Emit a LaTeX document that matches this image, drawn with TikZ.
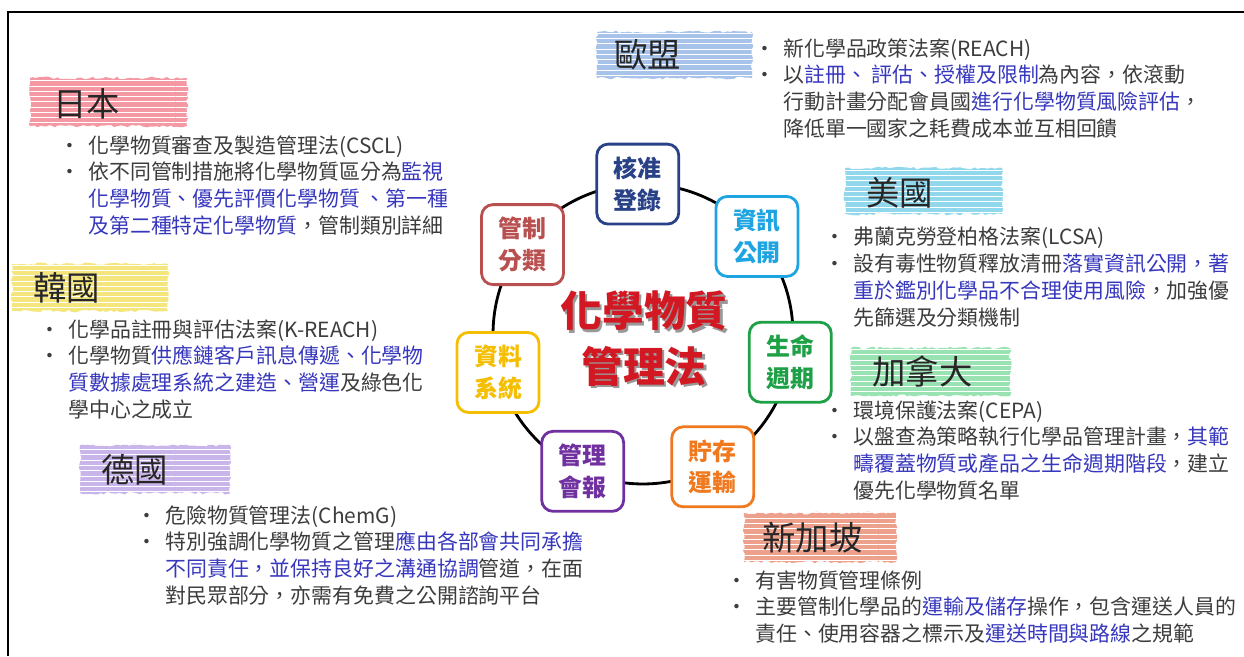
\documentclass[tikz,border=0pt]{standalone}
\usepackage{fontspec}
\setmainfont{Noto Sans CJK TC}
\usetikzlibrary{decorations.pathmorphing,patterns}

\definecolor{hlblue}{RGB}{55,55,190}
\definecolor{txtgray}{RGB}{60,60,60}
\definecolor{regblue}{RGB}{40,65,135}
\definecolor{infoblue}{RGB}{30,165,225}
\definecolor{lifegreen}{RGB}{30,160,70}
\definecolor{storeorange}{RGB}{240,120,30}
\definecolor{reportpurple}{RGB}{112,48,160}
\definecolor{datayellow}{RGB}{245,190,0}
\definecolor{classred}{RGB}{185,80,80}
\definecolor{titlered}{RGB}{210,25,35}
\definecolor{jpbrush}{RGB}{240,110,125}
\definecolor{eubrush}{RGB}{130,170,225}
\definecolor{usbrush}{RGB}{100,200,230}
\definecolor{cabrush}{RGB}{110,215,145}
\definecolor{sgbrush}{RGB}{230,120,90}
\definecolor{krbrush}{RGB}{240,220,70}
\definecolor{debrush}{RGB}{180,150,225}

\newlength{\bulw}\setlength{\bulw}{0.46cm}
\newcommand{\bul}{\makebox[\bulw][l]{\hspace{-0.12cm}•}}
\newcommand{\hang}{\hspace*{\bulw}}
\newcommand{\hl}[1]{\textcolor{hlblue}{#1}}
\newcommand{\shadowed}[1]{\rlap{\hspace{0.05cm}\raisebox{-0.05cm}{\textcolor{black!40}{#1}}}#1}

\tikzset{
  lawlist/.style={anchor=north west, inner sep=0pt, align=left, text=txtgray,
    font=\fontsize{11.9}{15.3}\selectfont},
  country/.style={anchor=west, inner sep=0pt, text=black!85,
    font=\fontsize{19}{19}\selectfont},
  brushstroke/.style={fill=#1, fill opacity=0.7, decorate,
    decoration={random steps, segment length=2pt, amplitude=0.8pt},
    postaction={pattern=horizontal lines, pattern color=white, fill opacity=0.15}},
  topic/.style={draw=#1, text=#1, fill=white, line width=1.6pt, rounded corners=6.5pt,
    minimum width=1.64cm, minimum height=1.6cm, align=center, inner sep=0pt,
    font=\bfseries\fontsize{13.6}{18}\selectfont},
  title/.style={align=center, inner sep=0pt, text=titlered,
    font=\bfseries\fontsize{23.8}{31.7}\selectfont},
}

\begin{document}
\begin{tikzpicture}[x=0.02cm, y=-0.02cm]
\pgfmathsetseed{11}
\useasboundingbox (0,0) rectangle (1244,656);
\draw[line width=1.1pt] (8,656) -- (8,12) -- (1244,12);

% brush strokes behind the country names
\fill[brushstroke=jpbrush] (30,78) rectangle (187,126);
\fill[brushstroke=krbrush] (12,264) rectangle (168,311);
\fill[brushstroke=debrush] (80,445) rectangle (230,493);
\fill[brushstroke=eubrush] (597,32) rectangle (752,78);
\fill[brushstroke=usbrush] (845,168) rectangle (1002,214);
\fill[brushstroke=cabrush] (851,348) rectangle (1010,396);
\fill[brushstroke=sgbrush] (744,513) rectangle (896,562);

\node[country] (jp) at (53,104) {日本};
\node[country] (kr) at (33,288) {韓國};
\node[country] (de) at (101,470) {德國};
\node[country] (eu) at (614,55) {歐盟};
\node[country] (us) at (866,193) {美國};
\node[country] (ca) at (872,371) {加拿大};
\node[country] (sg) at (762,538) {新加坡};

\node[lawlist] (jplaw) at (65,135) {\bul 化學物質審查及製造管理法(CSCL)\\
  \bul 依不同管制措施將化學物質區分為\hl{監視}\\
  \hang\hl{化學物質、優先評價化學物質 、第一種}\\
  \hang\hl{及第二種特定化學物質}，管制類別詳細};
\node[lawlist] (krlaw) at (45,319) {\bul 化學品註冊與評估法案(K-REACH)\\
  \bul 化學物質\hl{供應鏈客戶訊息傳遞、化學物}\\
  \hang\hl{質數據處理系統之建造、營運}及綠色化\\
  \hang 學中心之成立};
\node[lawlist] (delaw) at (142,505) {\bul 危險物質管理法(ChemG)\\
  \bul 特別強調化學物質之管理\hl{應由各部會共同承擔}\\
  \hang\hl{不同責任，並保持良好之溝通協調}管道，在面\\
  \hang 對民眾部分，亦需有免費之公開諮詢平台};
\node[lawlist] (eulaw) at (760,38) {\bul 新化學品政策法案(REACH)\\
  \bul 以\hl{註冊、 評估、授權及限制}為內容，依滾動\\
  \hang 行動計畫分配會員國\hl{進行化學物質風險評估}，\\
  \hang 降低單一國家之耗費成本並互相回饋};
\node[lawlist] (uslaw) at (830,227) {\bul 弗蘭克勞登柏格法案(LCSA)\\
  \bul 設有毒性物質釋放清冊\hl{落實資訊公開，著}\\
  \hang\hl{重於鑑別化學品不合理使用風險}，加強優\\
  \hang 先篩選及分類機制};
\node[lawlist] (calaw) at (830,400) {\bul 環境保護法案(CEPA)\\
  \bul 以盤查為策略執行化學品管理計畫，\hl{其範}\\
  \hang\hl{疇覆蓋物質或產品之生命週期階段}，建立\\
  \hang 優先化學物質名單};
\node[lawlist] (sglaw) at (732,570) {\bul 有害物質管理條例\\
  \bul 主要管制化學品的\hl{運輸及儲存}操作，包含運送人員的\\
  \hang 責任、使用容器之標示及\hl{運送時間與路線}之規範};

% ring of topics
\coordinate (ctr) at (643,334);
\draw[line width=1.6pt] (ctr) circle[radius=3cm];
\foreach \nm/\col/\txt [count=\k from 0] in {reg/regblue/{核准\\登錄},
    info/infoblue/{資訊\\公開}, life/lifegreen/{生命\\週期},
    store/storeorange/{貯存\\運輸}, report/reportpurple/{管理\\會報},
    data/datayellow/{資料\\系統}, class/classred/{管制\\分類}}
  \node[topic=\col] (\nm) at ([shift={(-92+51.43*\k:150)}]ctr) {\txt};

\node[title] (ttl) at (644,340) {\shadowed{化學物質}\\\shadowed{管理法}};
\end{tikzpicture}
\end{document}
